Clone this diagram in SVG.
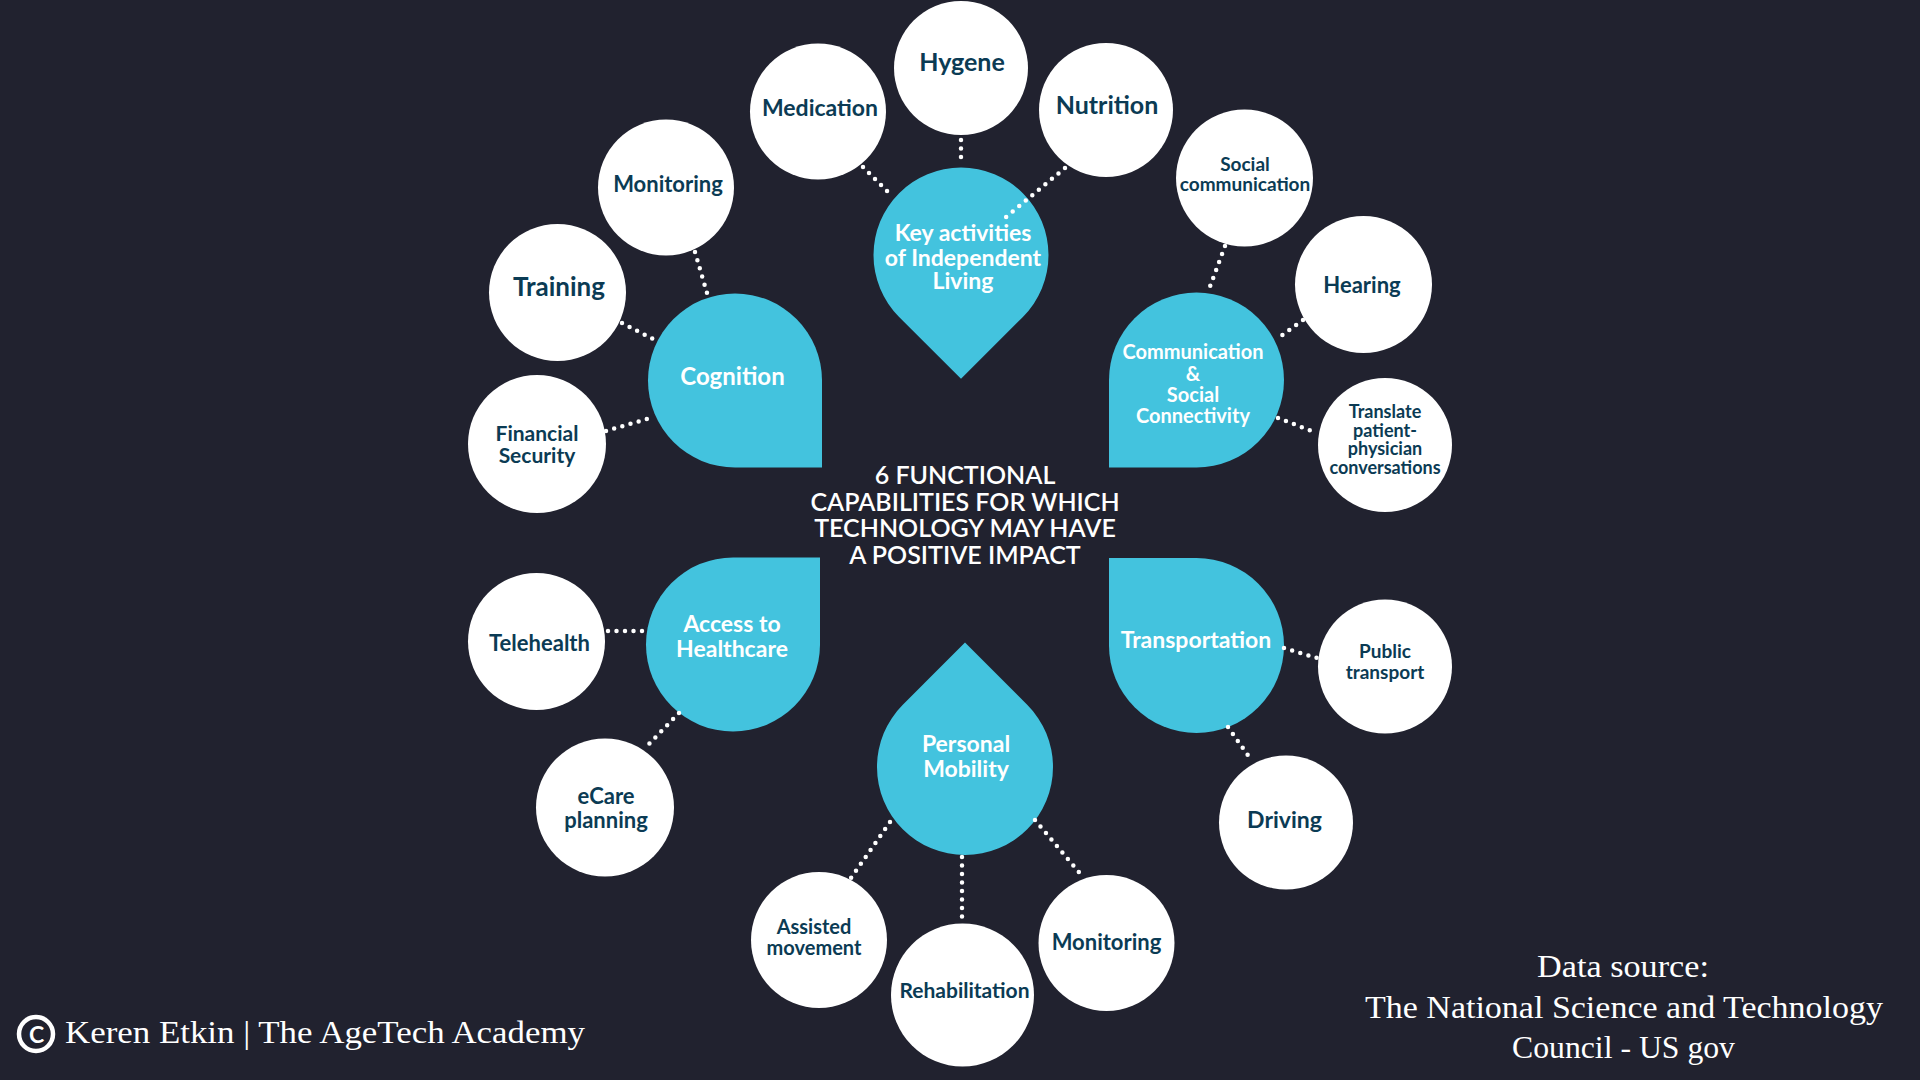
<svg xmlns="http://www.w3.org/2000/svg" width="1920" height="1080" viewBox="0 0 1920 1080">
<style>
.bg{fill:#21222f}
.hub{fill:#43c3de}
.sat{fill:#ffffff}
.ht{font-family:Lato,"Noto Sans",sans-serif;font-weight:700;fill:#ffffff;text-anchor:middle}
.st{font-family:Lato,"Noto Sans",sans-serif;font-weight:700;fill:#0b3b54;text-anchor:middle}
.ct{font-family:Lato,"Noto Sans",sans-serif;font-weight:600;fill:#ffffff;text-anchor:middle;font-size:25px}
.ft{font-family:"Liberation Serif",serif;fill:#ffffff;font-size:31px}
.dot{fill:none;stroke:#ffffff;stroke-width:4.5;stroke-linecap:round;stroke-dasharray:0 8.5}
</style>
<rect class="bg" x="0" y="0" width="1920" height="1080"/>

<!-- hubs -->
<g id="hub-key-activities">
<path class="hub" d="M 961 378.7 L 899.1 316.9 A 87.5 87.5 0 1 1 1022.9 316.9 Z"/>
<text class="ht" font-size="23" x="963" y="241">Key activities</text>
<text class="ht" font-size="23" x="963" y="266">of Independent</text>
<text class="ht" font-size="23" x="963" y="289">Living</text>
</g>
<g id="hub-cognition">
<path class="hub" d="M 822 467.5 L 735 467.5 A 87 87 0 1 1 822 380.5 Z"/>
<text class="ht" font-size="24" x="732.5" y="385">Cognition</text>
</g>
<g id="hub-communication">
<path class="hub" d="M 1109 467.5 L 1109 380 A 87.5 87.5 0 1 1 1196.5 467.5 Z"/>
<text class="ht" font-size="20" x="1193" y="359">Communication</text>
<text class="ht" font-size="20" x="1193" y="381">&amp;</text>
<text class="ht" font-size="20" x="1193" y="402">Social</text>
<text class="ht" font-size="20" x="1193" y="423">Connectivity</text>
</g>
<g id="hub-access">
<path class="hub" d="M 820 557.5 L 820 644.5 A 87 87 0 1 1 733 557.5 Z"/>
<text class="ht" font-size="23" x="732" y="632">Access to</text>
<text class="ht" font-size="23" x="732" y="657">Healthcare</text>
</g>
<g id="hub-transportation">
<path class="hub" d="M 1109 558 L 1196.5 558 A 87.5 87.5 0 1 1 1109 645.5 Z"/>
<text class="ht" font-size="23" x="1196" y="648">Transportation</text>
</g>
<g id="hub-mobility">
<path class="hub" d="M 965 642.5 L 1027.2 704.8 A 88 88 0 1 1 902.8 704.8 Z"/>
<text class="ht" font-size="23" x="966" y="752">Personal</text>
<text class="ht" font-size="23" x="966" y="777">Mobility</text>
</g>

<!-- satellites -->
<g id="sat-hygene"><circle class="sat" cx="961" cy="68" r="67"/><text class="st" font-size="25" x="962" y="71">Hygene</text></g>
<g id="sat-medication"><circle class="sat" cx="818" cy="111.5" r="68"/><text class="st" font-size="23" x="820" y="116">Medication</text></g>
<g id="sat-nutrition"><circle class="sat" cx="1106" cy="110" r="67"/><text class="st" font-size="25" x="1107" y="114">Nutrition</text></g>
<g id="sat-monitoring-cog"><circle class="sat" cx="666" cy="187.5" r="68"/><text class="st" font-size="22" x="668" y="192">Monitoring</text></g>
<g id="sat-training"><circle class="sat" cx="557.5" cy="292.5" r="68.5"/><text class="st" font-size="26" x="559" y="296">Training</text></g>
<g id="sat-financial"><circle class="sat" cx="537" cy="444" r="69"/><text class="st" font-size="21" x="537" y="441">Financial</text><text class="st" font-size="21" x="537" y="463">Security</text></g>
<g id="sat-social-comm"><circle class="sat" cx="1244.5" cy="178" r="68.5"/><text class="st" font-size="19" x="1245" y="171">Social</text><text class="st" font-size="19" x="1245" y="191">communication</text></g>
<g id="sat-hearing"><circle class="sat" cx="1363.5" cy="284.5" r="68.5"/><text class="st" font-size="22" x="1362" y="293">Hearing</text></g>
<g id="sat-translate"><circle class="sat" cx="1385" cy="445" r="67"/>
<text class="st" font-size="18" x="1385" y="418">Translate</text>
<text class="st" font-size="18" x="1385" y="437">patient-</text>
<text class="st" font-size="18" x="1385" y="455">physician</text>
<text class="st" font-size="18" x="1385" y="474">conversations</text></g>
<g id="sat-telehealth"><circle class="sat" cx="536.5" cy="641.5" r="68.5"/><text class="st" font-size="22" x="539.5" y="651">Telehealth</text></g>
<g id="sat-ecare"><circle class="sat" cx="605" cy="807.5" r="69"/><text class="st" font-size="22" x="606" y="804">eCare</text><text class="st" font-size="22" x="606" y="828">planning</text></g>
<g id="sat-public"><circle class="sat" cx="1385" cy="666.5" r="67"/><text class="st" font-size="19" x="1385" y="658">Public</text><text class="st" font-size="19" x="1385" y="679">transport</text></g>
<g id="sat-driving"><circle class="sat" cx="1286" cy="822.5" r="67"/><text class="st" font-size="23" x="1284.5" y="828">Driving</text></g>
<g id="sat-assisted"><circle class="sat" cx="819" cy="940" r="68"/><text class="st" font-size="20" x="814" y="934">Assisted</text><text class="st" font-size="20" x="814" y="955">movement</text></g>
<g id="sat-rehab"><circle class="sat" cx="962.5" cy="995" r="71.5"/><text class="st" font-size="21" x="964.5" y="998">Rehabilitation</text></g>
<g id="sat-monitoring-mob"><circle class="sat" cx="1106.5" cy="943" r="68"/><text class="st" font-size="22" x="1106.5" y="950">Monitoring</text></g>

<!-- connectors -->
<g id="connectors">
<line class="dot" x1="863" y1="167" x2="893" y2="197"/>
<line class="dot" x1="961" y1="140" x2="961" y2="164"/>
<line class="dot" x1="1065" y1="168" x2="1000" y2="222"/>
<line class="dot" x1="695" y1="252" x2="707" y2="293"/>
<line class="dot" x1="622" y1="323" x2="653" y2="339"/>
<line class="dot" x1="606" y1="431" x2="654" y2="417"/>
<line class="dot" x1="1225" y1="246" x2="1208" y2="292"/>
<line class="dot" x1="1303" y1="320" x2="1277" y2="339"/>
<line class="dot" x1="1278" y1="418" x2="1317" y2="433"/>
<line class="dot" x1="608" y1="631" x2="643" y2="631"/>
<line class="dot" x1="679" y1="713" x2="649" y2="744"/>
<line class="dot" x1="1284" y1="648" x2="1317" y2="658"/>
<line class="dot" x1="1228" y1="727" x2="1252" y2="761"/>
<line class="dot" x1="890" y1="822" x2="851" y2="878"/>
<line class="dot" x1="962" y1="857" x2="962" y2="917"/>
<line class="dot" x1="1035" y1="820" x2="1083" y2="877"/>
</g>

<!-- center title -->
<g id="title">
<text class="ct" x="965" y="484">6 FUNCTIONAL</text>
<text class="ct" x="965" y="510.5">CAPABILITIES FOR WHICH</text>
<text class="ct" x="965" y="537">TECHNOLOGY MAY HAVE</text>
<text class="ct" x="965" y="563.5">A POSITIVE IMPACT</text>
</g>

<!-- footer -->
<g id="credit">
<circle cx="36" cy="1034" r="17" fill="none" stroke="#ffffff" stroke-width="4.5"/>
<text x="36.5" y="1042.5" font-family="Lato,'Noto Sans',sans-serif" font-weight="700" font-size="23" fill="#ffffff" text-anchor="middle">C</text>
<text class="ft" x="65" y="1043" textLength="520" lengthAdjust="spacingAndGlyphs">Keren Etkin | The AgeTech Academy</text>
</g>
<g id="source">
<text class="ft" x="1623" y="977" text-anchor="middle" textLength="172" lengthAdjust="spacingAndGlyphs">Data source:</text>
<text class="ft" x="1624" y="1018" text-anchor="middle" textLength="518" lengthAdjust="spacingAndGlyphs">The National Science and Technology</text>
<text class="ft" x="1623.5" y="1058" text-anchor="middle" textLength="223" lengthAdjust="spacingAndGlyphs">Council - US gov</text>
</g>
</svg>
